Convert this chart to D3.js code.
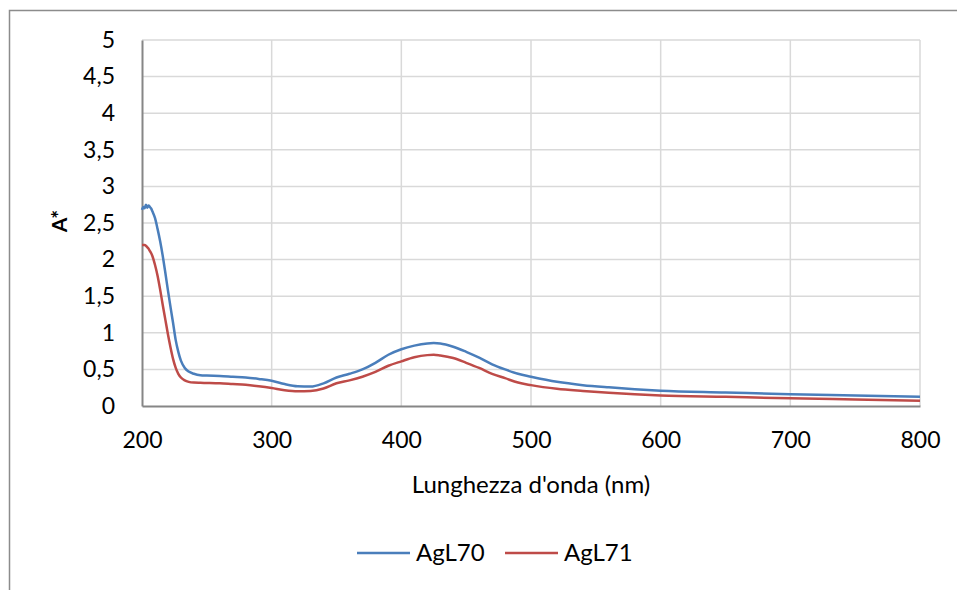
<!DOCTYPE html>
<html><head><meta charset="utf-8">
<script src="https://cdn.jsdelivr.net/npm/d3@7"></script>
<style>body{margin:0;background:#fff}svg{display:block}</style>
</head><body>
<svg id="c" width="957" height="590"></svg>
<script>
const wavelengths = [200,201,202,203,204,205,206,207,208,210,212,214,216,218,220,222,224,226,228,230,233,236,240,245,250,260,270,280,290,300,310,320,330,340,350,360,370,380,390,400,410,420,425,430,440,450,460,470,480,490,500,520,540,560,580,600,650,700,750,800];
const agl70 = [2.68,2.72,2.70,2.75,2.71,2.74,2.72,2.70,2.66,2.57,2.42,2.25,2.05,1.82,1.58,1.35,1.13,0.90,0.74,0.62,0.52,0.47,0.44,0.42,0.415,0.41,0.40,0.39,0.37,0.345,0.30,0.27,0.265,0.31,0.39,0.44,0.50,0.59,0.70,0.775,0.825,0.855,0.86,0.855,0.81,0.74,0.66,0.57,0.50,0.44,0.40,0.33,0.285,0.255,0.23,0.21,0.185,0.16,0.145,0.127];
const agl71 = [2.20,2.20,2.20,2.19,2.17,2.15,2.12,2.09,2.05,1.93,1.78,1.59,1.38,1.18,0.98,0.80,0.64,0.52,0.44,0.39,0.35,0.33,0.32,0.317,0.315,0.31,0.30,0.29,0.27,0.245,0.215,0.20,0.205,0.24,0.31,0.35,0.40,0.465,0.55,0.61,0.665,0.695,0.70,0.69,0.655,0.59,0.52,0.44,0.38,0.32,0.285,0.235,0.205,0.18,0.16,0.145,0.125,0.105,0.09,0.073];
const seriesNames = ["AgL70","AgL71"];
const seriesColors = ["#4a7ebb","#be4b48"];
const xTicks = [200,300,400,500,600,700,800];
const yTicks = [0,0.5,1,1.5,2,2.5,3,3.5,4,4.5,5];
const xTitle = "Lunghezza d'onda (nm)";
const yTitle = "A*";

const svg = d3.select("#c");
const font = "Lato, 'Open Sans', sans-serif";
const L=142,R=920,T=40,B=406;
const x = d3.scaleLinear().domain([200,800]).range([L,R]);
const y = d3.scaleLinear().domain([0,5]).range([B,T]);
const fmt = v => String(v).replace(".", ",");

// outer border
svg.append("path").attr("d","M9.5,590 L9.5,10.5 L957,10.5").attr("fill","none").attr("stroke","#8c8c8c").attr("stroke-width",1.5);

// gridlines
svg.append("g").selectAll("line").data(yTicks.filter(d=>d>0)).join("line")
  .attr("x1",L).attr("x2",R).attr("y1",d=>y(d)).attr("y2",d=>y(d))
  .attr("stroke","#d9d9d9").attr("stroke-width",1.5);
svg.append("g").selectAll("line").data(xTicks.filter(d=>d>200)).join("line")
  .attr("x1",d=>x(d)).attr("x2",d=>x(d)).attr("y1",T).attr("y2",B)
  .attr("stroke","#d9d9d9").attr("stroke-width",1.5);

// axes
const yAxis = d3.axisLeft(y).tickValues(yTicks).tickFormat(fmt).tickSize(0).tickPadding(27);
const gy = svg.append("g").attr("transform",`translate(${L},0)`).call(yAxis);
gy.select(".domain").attr("stroke","#868686").attr("stroke-width",2);
gy.selectAll("text").attr("font-family",font).attr("font-size",23).attr("fill","#000");

const xAxis = d3.axisBottom(x).tickValues(xTicks).tickSize(0).tickPadding(26);
const gx = svg.append("g").attr("transform",`translate(0,${B})`).call(xAxis);
gx.select(".domain").attr("stroke","#868686").attr("stroke-width",2);
gx.selectAll("text").attr("font-family",font).attr("font-size",23).attr("fill","#000");

// lines
const line = d3.line().x((d,i)=>x(wavelengths[i])).y(d=>y(d)).curve(d3.curveMonotoneX);
[agl70,agl71].forEach((s,k)=>{
  svg.append("path").datum(s).attr("d",line).attr("fill","none")
    .attr("stroke",seriesColors[k]).attr("stroke-width",2.5).attr("stroke-linejoin","round");
});

// titles
svg.append("text").attr("x",531).attr("y",493).attr("text-anchor","middle")
  .attr("font-family",font).attr("font-size",24).text(xTitle);
svg.append("text").attr("transform","translate(67,221) rotate(-90)").attr("text-anchor","middle")
  .attr("font-family",font).attr("font-size",21).attr("font-weight","bold").text(yTitle);

// legend
const legX = [357,505];
seriesNames.forEach((n,k)=>{
  svg.append("line").attr("x1",legX[k]).attr("x2",legX[k]+53).attr("y1",553).attr("y2",553)
    .attr("stroke",seriesColors[k]).attr("stroke-width",2.5);
  svg.append("text").attr("x",legX[k]+59).attr("y",561).attr("font-family",font).attr("font-size",24).text(n);
});
</script>
</body></html>
